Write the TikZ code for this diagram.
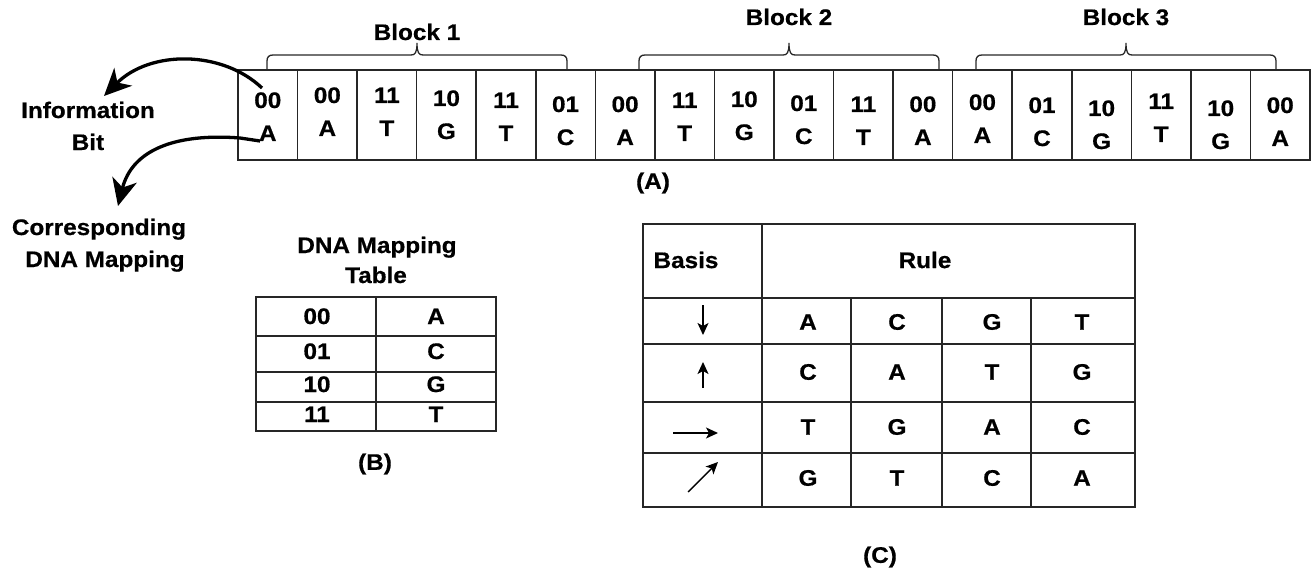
\documentclass[tikz,border=0pt]{standalone}
\usepackage{fontspec}
\setmainfont{Liberation Sans}[FakeStretch=1.08, BoldFeatures={FakeBold=0.6}]
\usetikzlibrary{arrows.meta}
\begin{document}
\begin{tikzpicture}[x=1pt,y=-1pt,
  txt/.style={font=\fontsize{22.5}{26}\selectfont\bfseries, inner sep=0pt, text=black},
  cellbox/.style={draw=black!85, line width=1.6pt, minimum width=59.556pt, minimum height=90pt, inner sep=0pt},
  bracestyle/.style={draw=black!85, line width=1.3pt},
  tbl/.style={draw=black!85, line width=1.8pt},
  bigarrow/.style={line width=3.3pt, -{Stealth[length=27pt,width=25pt,inset=8pt]}},
  smallarrow/.style={line width=1.4pt, -{Stealth[length=12pt,width=11pt,inset=3pt]}}
]
\useasboundingbox (0,0) rectangle (1315,575);

% ---- strip of 18 cells ----
\foreach \bitv/\basev/\dy [count=\i] in {00/A/0, 00/A/-5, 11/T/-5, 10/G/-2, 11/T/0, 01/C/4, 00/A/4, 11/T/0, 10/G/-1, 01/C/3, 11/T/4, 00/A/4, 00/A/2, 01/C/5, 10/G/8, 11/T/1, 10/G/8, 00/A/5} {
  \pgfmathsetmacro\cx{238+(\i-0.5)*59.556}
  \node[cellbox] (c\i) at (\cx,115) {};
  \node[txt,anchor=base] (b\i) at (\cx,108+\dy) {\bitv};
  \node[txt,anchor=base] (l\i) at (\cx,141+\dy) {\basev};
}

% ---- braces ----
\foreach \xa/\xb in {267/567, 639/939, 976/1276} {
  \pgfmathsetmacro\xm{(\xa+\xb)/2}
  \draw[bracestyle] (\xa,70) -- (\xa,61) .. controls (\xa,57) and ({\xa+2},55) .. ({\xa+6},55)
    -- ({\xm-6},55) .. controls ({\xm-2},55) and (\xm,53) .. (\xm,43)
    .. controls (\xm,53) and ({\xm+2},55) .. ({\xm+6},55)
    -- ({\xb-6},55) .. controls ({\xb-2},55) and (\xb,57) .. (\xb,61) -- (\xb,70);
}
\node[txt,anchor=base] (blk1) at (417,40) {Block 1};
\node[txt,anchor=base] (blk2) at (789,25) {Block 2};
\node[txt,anchor=base] (blk3) at (1126,25) {Block 3};
\node[txt] (capA) at (653,183) {(A)};

% ---- left labels and arrows ----
\node[txt,anchor=base] (info1) at (88,118) {Information};
\node[txt,anchor=base] (info2) at (88,150) {Bit};
\node[txt,anchor=base] (corr1) at (99,235) {Corresponding};
\node[txt,anchor=base] (corr2) at (105,267) {DNA Mapping};

\coordinate (ia) at (262,88);
\coordinate (ib) at (260,141);
\coordinate (ibk) at (240,138);
\coordinate (infoTip) at (104,96);
\coordinate (corrTip) at (118,206);
\draw[bigarrow] (ia) .. controls (222,50) and (150,50) .. (infoTip);
\draw[bigarrow] (ib) -- (ibk) .. controls (175,133) and (132,150) .. (corrTip);

% ---- table B ----
\node[txt,anchor=base] (tb1) at (377,253) {DNA Mapping};
\node[txt,anchor=base] (tb2) at (376,283) {Table};
\draw[tbl] (256,297) rectangle (496,431);
\draw[tbl] (376,297) -- (376,431);
\foreach \y in {336,372,402} \draw[tbl] (256,\y) -- (496,\y);
\foreach \k/\v/\y in {00/A/324, 01/C/359, 10/G/392, 11/T/422} {
  \node[txt,anchor=base] (mk\k) at (317,\y) {\k};
  \node[txt,anchor=base] (mv\k) at (436,\y) {\v};
}
\node[txt] (capB) at (375,464) {(B)};

% ---- table C ----
\draw[tbl] (643,224) rectangle (1135,507);
\draw[tbl] (762,224) -- (762,507);
\foreach \y in {298,344,402,453} \draw[tbl] (643,\y) -- (1135,\y);
\foreach \x in {851,942,1031} \draw[tbl] (\x,298) -- (\x,507);
\node[txt] (basis) at (686,260) {Basis};
\node[txt] (rule) at (925,260) {Rule};
\foreach \ra/\rb/\rc/\rd/\y [count=\r] in {A/C/G/T/322, C/A/T/G/372, T/G/A/C/427, G/T/C/A/478} {
  \node[txt] (r\r a) at (808,\y) {\ra};
  \node[txt] (r\r b) at (897,\y) {\rb};
  \node[txt] (r\r c) at (992,\y) {\rc};
  \node[txt] (r\r d) at (1082,\y) {\rd};
}
\coordinate (d1) at (703,305); \coordinate (d2) at (703,335);
\coordinate (u1) at (703,388); \coordinate (u2) at (703,362);
\coordinate (h1) at (673,433); \coordinate (h2) at (718,433);
\coordinate (g1) at (688,492); \coordinate (g2) at (718,462);
\draw[smallarrow] (d1) -- (d2);
\draw[smallarrow] (u1) -- (u2);
\draw[smallarrow] (h1) -- (h2);
\draw[smallarrow] (g1) -- (g2);
\node[txt] (capC) at (880,557) {(C)};
\end{tikzpicture}
\end{document}
